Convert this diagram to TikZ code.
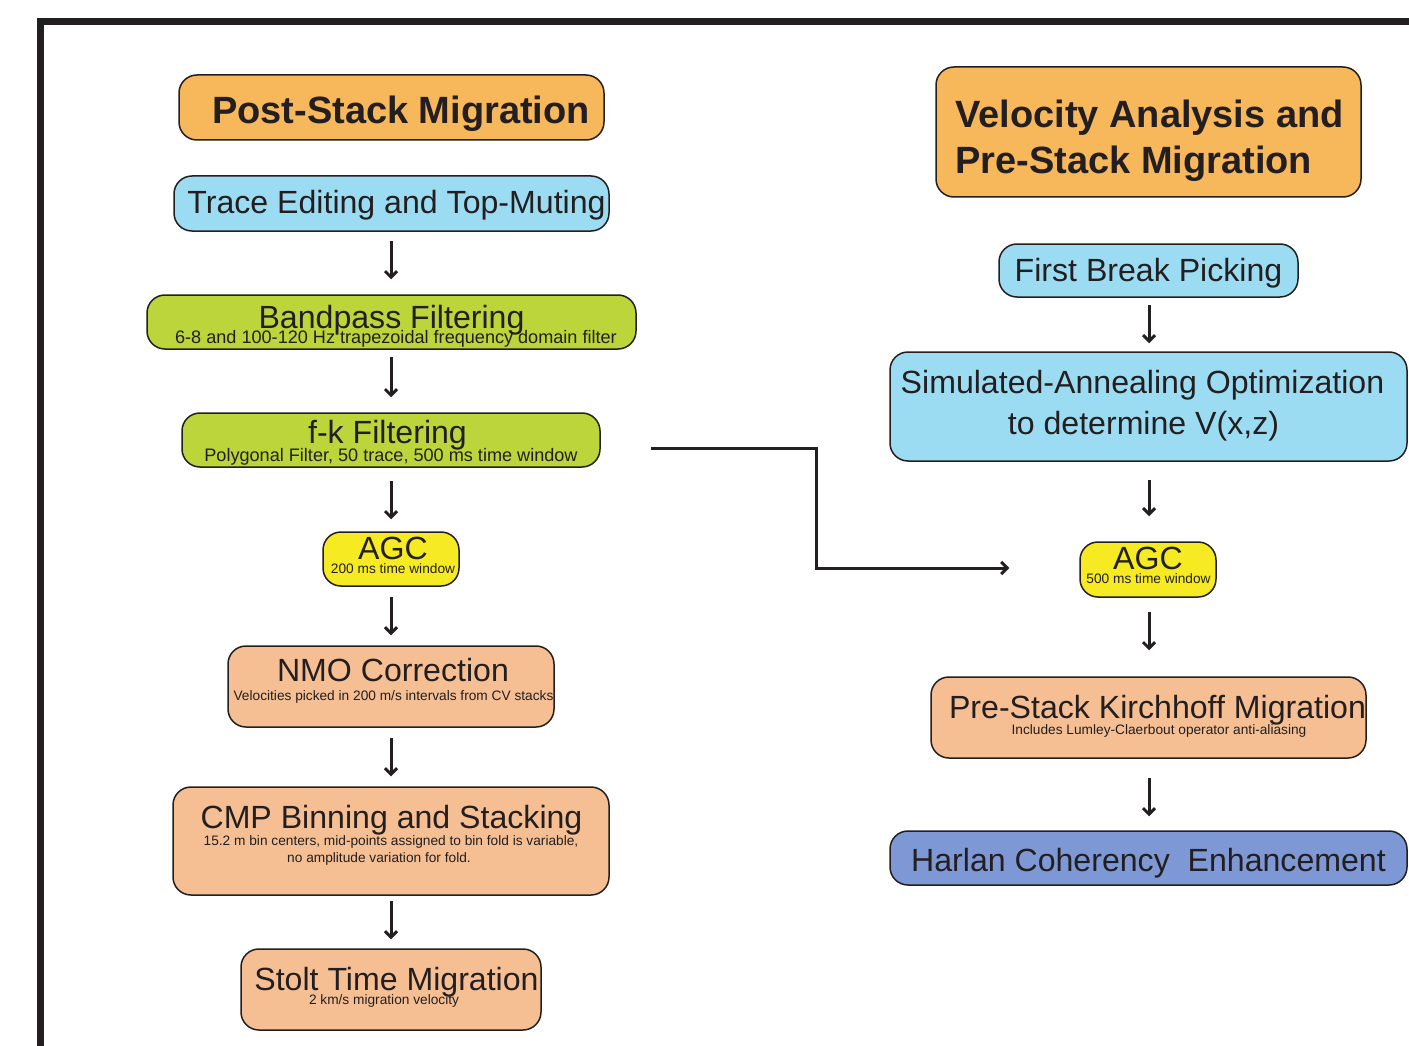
\documentclass[tikz,border=0pt]{standalone}
\usepackage{fontspec}
\setmainfont{Liberation Sans}
\usetikzlibrary{arrows.meta}
\definecolor{ink}{HTML}{231F20}
\definecolor{corange}{HTML}{F7B75B}
\definecolor{cblue}{HTML}{9CDCF3}
\definecolor{cgreen}{HTML}{BBD53B}
\definecolor{cyellow}{HTML}{F6EB22}
\definecolor{csalmon}{HTML}{F5BF93}
\definecolor{cdblue}{HTML}{7E98D5}
\tikzset{
  box/.style={draw=ink, line width=1.5pt, rounded corners=18pt, inner sep=0pt},
  ttl/.style={font=\fontsize{32.1}{36}\selectfont, text=ink, anchor=base, inner sep=0pt},
  bttl/.style={font=\fontsize{38}{46}\selectfont\bfseries, text=ink, anchor=base, inner sep=0pt},
  msub/.style={font=\fontsize{18.1}{20}\selectfont, text=ink, anchor=base, inner sep=0pt},
  ssub/.style={font=\fontsize{13.7}{16}\selectfont, text=ink, anchor=base, inner sep=0pt},
  arr/.style={draw=ink, line width=3pt, -{Straight Barb[length=6pt,width=12pt,line width=3pt]}},
}
\begin{document}
\begin{tikzpicture}[x=1pt,y=-1pt]
\useasboundingbox (0,0) rectangle (1409,1046);
% frame
\draw[ink, line width=7pt] (40.5,1046) -- (40.5,21.5) -- (1409,21.5);

% left column boxes
\node[box, fill=corange, minimum width=425pt, minimum height=65pt] (post) at (391.5,107.5) {};
\node[box, fill=cblue, minimum width=435pt, minimum height=55pt] (trace) at (391.5,203.5) {};
\node[box, fill=cgreen, minimum width=489pt, minimum height=54pt] (band) at (391.5,322) {};
\node[box, fill=cgreen, minimum width=418pt, minimum height=54pt] (fk) at (391,440) {};
\node[box, fill=cyellow, minimum width=136pt, minimum height=54pt] (agcl) at (391,559) {};
\node[box, fill=csalmon, minimum width=326pt, minimum height=81pt] (nmo) at (391,686.5) {};
\node[box, fill=csalmon, minimum width=436pt, minimum height=108pt] (cmp) at (391,841) {};
\node[box, fill=csalmon, minimum width=300pt, minimum height=81pt] (stolt) at (391,989.5) {};

% right column boxes
\node[box, fill=corange, minimum width=425pt, minimum height=130pt] (vel) at (1148.5,132) {};
\node[box, fill=cblue, minimum width=299pt, minimum height=53pt] (fbp) at (1148.5,270.5) {};
\node[box, fill=cblue, minimum width=517pt, minimum height=109pt] (sa) at (1148.5,406.5) {};
\node[box, fill=cyellow, minimum width=136pt, minimum height=55pt] (agcr) at (1148,569.5) {};
\node[box, fill=csalmon, minimum width=435pt, minimum height=81pt] (pskm) at (1148.5,717.5) {};
\node[box, fill=cdblue, minimum width=517pt, minimum height=54pt] (harlan) at (1148.5,858) {};

% left texts
\node[bttl] (tpost) at (401,123.5) {Post-Stack Migration};
\node[ttl] (ttrace) at (396.5,214) {Trace Editing and Top-Muting};
\node[ttl] (tband) at (391.5,328) {Bandpass Filtering};
\node[msub] (sband) at (396,343.5) {6-8 and 100-120 Hz trapezoidal frequency domain filter};
\node[ttl] (tfk) at (387.5,443) {f-k Filtering};
\node[msub] (sfk) at (391,461.5) {Polygonal Filter, 50 trace, 500 ms time window};
\node[ttl] (tagcl) at (393,559) {AGC};
\node[ssub] (sagcl) at (393,573) {200 ms time window};
\node[ttl] (tnmo) at (393,681) {NMO Correction};
\node[ssub] (snmo) at (393.5,700) {Velocities picked in 200 m/s intervals from CV stacks};
\node[ttl] (tcmp) at (391.5,828) {CMP Binning and Stacking};
\node[ssub] (scmpa) at (391,845) {15.2 m bin centers, mid-points assigned to bin fold is variable,};
\node[ssub] (scmpb) at (379,862) {no amplitude variation for fold.};
\node[ttl] (tstolt) at (396.5,990) {Stolt Time Migration};
\node[ssub] (sstolt) at (384,1004) {2 km/s migration velocity};

% right texts
\node[bttl, anchor=base west] (tvela) at (955,127.5) {Velocity Analysis and};
\node[bttl, anchor=base west] (tvelb) at (955,173.5) {Pre-Stack Migration};
\node[ttl] (tfbp) at (1148.5,281) {First Break Picking};
\node[ttl] (tsaa) at (1142.5,393) {Simulated-Annealing Optimization};
\node[ttl] (tsab) at (1143.5,434) {to determine V(x,z)};
\node[ttl] (tagcr) at (1148,569) {AGC};
\node[ssub] (sagcr) at (1148.5,583) {500 ms time window};
\node[ttl] (tpskm) at (1157.5,718) {Pre-Stack Kirchhoff Migration};
\node[ssub] (spskm) at (1159,734) {Includes Lumley-Claerbout operator anti-aliasing};
\node[ttl] (tharlan) at (1148.5,871) {Harlan Coherency\ \ Enhancement};

% left arrows
\draw[arr, shorten <=9pt, shorten >=15pt] (trace.south -| 391,0) -- (band.north -| 391,0);
\draw[arr, shorten <=7pt, shorten >=15pt] (band.south -| 391,0) -- (fk.north -| 391,0);
\draw[arr, shorten <=13pt, shorten >=12pt] (fk.south -| 391,0) -- (agcl.north -| 391,0);
\draw[arr, shorten <=10pt, shorten >=10pt] (agcl.south -| 391,0) -- (nmo.north -| 391,0);
\draw[arr, shorten <=10pt, shorten >=10pt] (nmo.south -| 391,0) -- (cmp.north -| 391,0);
\draw[arr, shorten <=5pt, shorten >=9pt] (cmp.south -| 391,0) -- (stolt.north -| 391,0);

% right arrows
\draw[arr, shorten <=7pt, shorten >=8pt] (fbp.south -| 1149,0) -- (sa.north -| 1149,0);
\draw[arr, shorten <=18pt, shorten >=25pt] (sa.south -| 1149,0) -- (agcr.north -| 1149,0);
\draw[arr, shorten <=14pt, shorten >=26pt] (agcr.south -| 1149,0) -- (pskm.north -| 1149,0);
\draw[arr, shorten <=19pt, shorten >=14pt] (pskm.south -| 1149,0) -- (harlan.north -| 1149,0);

% cross connector
\coordinate (cstart) at ([xshift=50pt,yshift=-8pt]fk.east);
\coordinate (cend) at ([xshift=-70pt,yshift=1.5pt]agcr.west);
\draw[arr] (cstart) -- ++(166,0) |- (cend);
\end{tikzpicture}
\end{document}
